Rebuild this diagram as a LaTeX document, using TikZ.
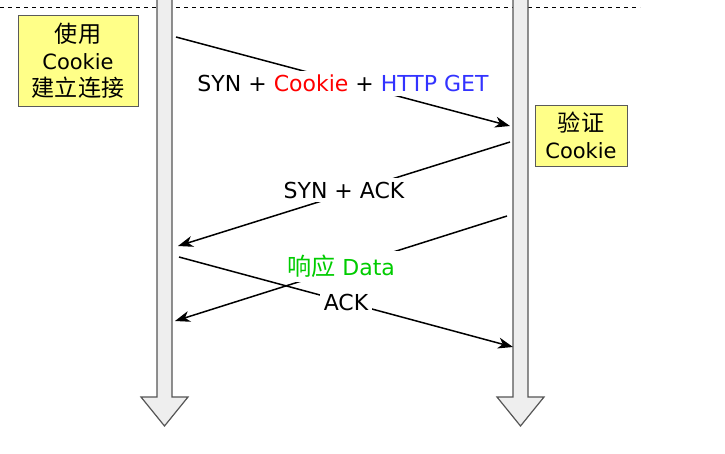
\documentclass[tikz,border=0pt]{standalone}
\usepackage{fontspec}
\setmainfont{DejaVu Sans}
\newfontfamily\cjk[Scale=1.1]{Noto Sans CJK SC}
\usepackage{xcolor}
\usetikzlibrary{arrows.meta}
\definecolor{notefill}{HTML}{FFFF88}
\definecolor{noteborder}{HTML}{5A5A5A}
\definecolor{linefill}{HTML}{EEEEEE}
\definecolor{lineborder}{HTML}{555555}
\definecolor{cookiered}{HTML}{FF0000}
\definecolor{getblue}{HTML}{3333FF}
\definecolor{datagreen}{HTML}{00CC00}

\begin{document}
\begin{tikzpicture}[x=1pt,y=-1pt,
    lifeline/.style={draw=lineborder,fill=linefill,line width=1.2pt},
    note/.style={draw=noteborder,fill=notefill,line width=1pt,align=center,
        inner sep=0pt,font=\fontsize{21}{27}\selectfont},
    msg/.style={-{Stealth[length=15pt,width=11pt,inset=4.5pt]},line width=1.5pt},
    msglabel/.style={fill=white,inner sep=4pt,font=\fontsize{22}{25}\selectfont}]
    \useasboundingbox (0,0) rectangle (725,453);
    % dashed separator
    \coordinate (sepL) at (0,7);
    \coordinate (sepR) at (640,7);
    \draw[dashed,dash pattern=on 4pt off 4pt,line width=0.8pt] (sepL) -- (sepR);
    % lifelines
    \draw[lifeline] (157,-5) -- (157,397) -- (141,397) -- (164.5,426)
        -- (188,397) -- (172,397) -- (172,-5) -- cycle;
    \draw[lifeline] (513,-5) -- (513,397) -- (497,397) -- (520.5,426)
        -- (544,397) -- (528,397) -- (528,-5) -- cycle;
    % notes
    \node[note,minimum width=120pt,minimum height=91pt] (client) at (78,60.5)
        {{\cjk 使用}\\Cookie\\{\cjk 建立连接}};
    \node[note,minimum width=92pt,minimum height=61pt] (server) at (581,135.5)
        {{\cjk 验证}\\Cookie};
    % message ends
    \coordinate (syn-from) at (176,37);
    \coordinate (syn-to) at (510,126);
    \coordinate (synack-from) at (510,142);
    \coordinate (synack-to) at (178,246);
    \coordinate (data-from) at (507,216);
    \coordinate (data-to) at (175,321);
    \coordinate (ack-from) at (179,257);
    \coordinate (ack-to) at (513,347);
    % messages
    \draw[msg] (syn-from) -- node[msglabel,yshift=-2pt] (synlabel)
        {SYN + \textcolor{cookiered}{Cookie} + \textcolor{getblue}{HTTP GET}} (syn-to);
    \draw[msg] (synack-from) -- node[msglabel,yshift=4pt] (synacklabel) {SYN + ACK} (synack-to);
    \draw[msg] (data-from) -- node[msglabel,text=datagreen,yshift=2pt] (datalabel)
        {{\cjk 响应} Data} (data-to);
    \draw[msg] (ack-from) -- node[msglabel] (acklabel) {ACK} (ack-to);
\end{tikzpicture}
\end{document}
